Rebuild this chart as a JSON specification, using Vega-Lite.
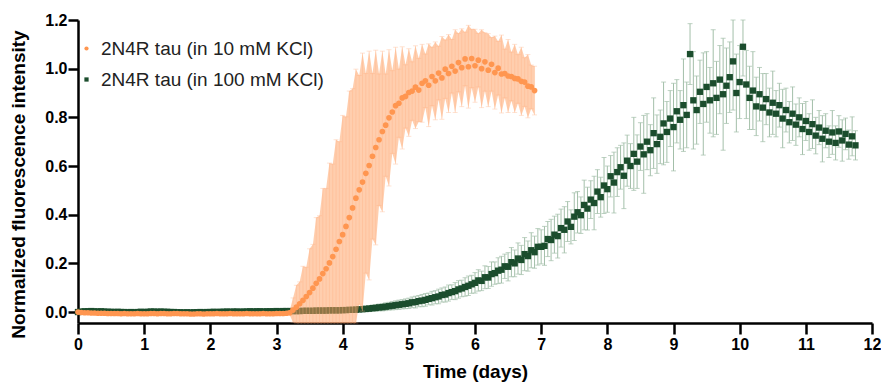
{
"$schema":"https://vega.github.io/schema/vega-lite/v6.json",
"width":794,"height":303,
"autosize":{"type":"none"},
"padding":{"left":78,"top":20,"right":9,"bottom":62},
"background":"white",
"config":{"view":{"stroke":null},"axis":{"grid":false}},
"data":{"values":[
{"s":"10","t":0.00,"m":0.000,"e":0.003},{"s":"10","t":0.05,"m":-0.002,"e":0.004},{"s":"10","t":0.10,"m":-0.003,"e":0.004},{"s":"10","t":0.15,"m":-0.003,"e":0.004},{"s":"10","t":0.20,"m":-0.004,"e":0.004},{"s":"10","t":0.25,"m":-0.004,"e":0.004},{"s":"10","t":0.30,"m":-0.005,"e":0.004},{"s":"10","t":0.35,"m":-0.005,"e":0.004},{"s":"10","t":0.40,"m":-0.005,"e":0.004},{"s":"10","t":0.45,"m":-0.006,"e":0.004},
{"s":"10","t":0.50,"m":-0.006,"e":0.004},{"s":"10","t":0.55,"m":-0.006,"e":0.004},{"s":"10","t":0.60,"m":-0.006,"e":0.004},{"s":"10","t":0.65,"m":-0.007,"e":0.004},{"s":"10","t":0.70,"m":-0.006,"e":0.004},{"s":"10","t":0.75,"m":-0.007,"e":0.004},{"s":"10","t":0.80,"m":-0.007,"e":0.004},{"s":"10","t":0.85,"m":-0.007,"e":0.004},{"s":"10","t":0.90,"m":-0.006,"e":0.004},{"s":"10","t":0.95,"m":-0.007,"e":0.004},
{"s":"10","t":1.00,"m":-0.007,"e":0.004},{"s":"10","t":1.05,"m":-0.007,"e":0.004},{"s":"10","t":1.10,"m":-0.006,"e":0.004},{"s":"10","t":1.15,"m":-0.006,"e":0.004},{"s":"10","t":1.20,"m":-0.007,"e":0.004},{"s":"10","t":1.25,"m":-0.006,"e":0.004},{"s":"10","t":1.30,"m":-0.006,"e":0.004},{"s":"10","t":1.35,"m":-0.007,"e":0.004},{"s":"10","t":1.40,"m":-0.007,"e":0.004},{"s":"10","t":1.45,"m":-0.006,"e":0.004},
{"s":"10","t":1.50,"m":-0.006,"e":0.004},{"s":"10","t":1.55,"m":-0.007,"e":0.004},{"s":"10","t":1.60,"m":-0.007,"e":0.004},{"s":"10","t":1.65,"m":-0.007,"e":0.004},{"s":"10","t":1.70,"m":-0.008,"e":0.004},{"s":"10","t":1.75,"m":-0.008,"e":0.004},{"s":"10","t":1.80,"m":-0.007,"e":0.004},{"s":"10","t":1.85,"m":-0.007,"e":0.004},{"s":"10","t":1.90,"m":-0.008,"e":0.004},{"s":"10","t":1.95,"m":-0.007,"e":0.004},
{"s":"10","t":2.00,"m":-0.007,"e":0.004},{"s":"10","t":2.05,"m":-0.007,"e":0.004},{"s":"10","t":2.10,"m":-0.006,"e":0.004},{"s":"10","t":2.15,"m":-0.007,"e":0.004},{"s":"10","t":2.20,"m":-0.007,"e":0.004},{"s":"10","t":2.25,"m":-0.007,"e":0.004},{"s":"10","t":2.30,"m":-0.006,"e":0.004},{"s":"10","t":2.35,"m":-0.007,"e":0.004},{"s":"10","t":2.40,"m":-0.007,"e":0.004},{"s":"10","t":2.45,"m":-0.007,"e":0.004},
{"s":"10","t":2.50,"m":-0.007,"e":0.004},{"s":"10","t":2.55,"m":-0.006,"e":0.004},{"s":"10","t":2.60,"m":-0.007,"e":0.004},{"s":"10","t":2.65,"m":-0.007,"e":0.004},{"s":"10","t":2.70,"m":-0.007,"e":0.004},{"s":"10","t":2.75,"m":-0.007,"e":0.004},{"s":"10","t":2.80,"m":-0.006,"e":0.004},{"s":"10","t":2.85,"m":-0.007,"e":0.004},{"s":"10","t":2.90,"m":-0.007,"e":0.004},{"s":"10","t":2.95,"m":-0.007,"e":0.004},
{"s":"10","t":3.00,"m":-0.006,"e":0.004},{"s":"10","t":3.05,"m":-0.006,"e":0.004},{"s":"10","t":3.10,"m":-0.006,"e":0.005},{"s":"10","t":3.15,"m":-0.005,"e":0.006},{"s":"10","t":3.20,"m":-0.003,"e":0.01},
{"s":"10","t":3.25,"m":0.008,"e":0.05},{"s":"10","t":3.30,"m":0.020,"e":0.09},{"s":"10","t":3.35,"m":0.034,"e":0.09},{"s":"10","t":3.40,"m":0.048,"e":0.14},{"s":"10","t":3.45,"m":0.064,"e":0.12},{"s":"10","t":3.50,"m":0.080,"e":0.18},{"s":"10","t":3.55,"m":0.098,"e":0.18},{"s":"10","t":3.60,"m":0.118,"e":0.27},{"s":"10","t":3.65,"m":0.136,"e":0.26},{"s":"10","t":3.70,"m":0.158,"e":0.35},
{"s":"10","t":3.75,"m":0.178,"e":0.33},{"s":"10","t":3.80,"m":0.202,"e":0.41},{"s":"10","t":3.85,"m":0.228,"e":0.38},{"s":"10","t":3.90,"m":0.258,"e":0.45},{"s":"10","t":3.95,"m":0.290,"e":0.41},{"s":"10","t":4.00,"m":0.318,"e":0.49},{"s":"10","t":4.05,"m":0.352,"e":0.45},{"s":"10","t":4.10,"m":0.388,"e":0.52},{"s":"10","t":4.15,"m":0.428,"e":0.49},{"s":"10","t":4.20,"m":0.468,"e":0.53},
{"s":"10","t":4.25,"m":0.502,"e":0.47},{"s":"10","t":4.30,"m":0.534,"e":0.53},{"s":"10","t":4.35,"m":0.570,"e":0.41},{"s":"10","t":4.40,"m":0.602,"e":0.47},{"s":"10","t":4.45,"m":0.640,"e":0.34},{"s":"10","t":4.50,"m":0.676,"e":0.40},{"s":"10","t":4.55,"m":0.708,"e":0.27},{"s":"10","t":4.60,"m":0.742,"e":0.33},{"s":"10","t":4.65,"m":0.768,"e":0.21},{"s":"10","t":4.70,"m":0.798,"e":0.28},
{"s":"10","t":4.75,"m":0.822,"e":0.17},{"s":"10","t":4.80,"m":0.848,"e":0.24},{"s":"10","t":4.85,"m":0.858,"e":0.14},{"s":"10","t":4.90,"m":0.880,"e":0.21},{"s":"10","t":4.95,"m":0.886,"e":0.13},{"s":"10","t":5.00,"m":0.902,"e":0.18},{"s":"10","t":5.05,"m":0.908,"e":0.12},{"s":"10","t":5.10,"m":0.924,"e":0.17},{"s":"10","t":5.15,"m":0.912,"e":0.13},{"s":"10","t":5.20,"m":0.940,"e":0.16},
{"s":"10","t":5.25,"m":0.950,"e":0.11},{"s":"10","t":5.30,"m":0.932,"e":0.17},{"s":"10","t":5.35,"m":0.968,"e":0.12},{"s":"10","t":5.40,"m":0.950,"e":0.16},{"s":"10","t":5.45,"m":0.982,"e":0.11},{"s":"10","t":5.50,"m":0.962,"e":0.17},{"s":"10","t":5.55,"m":0.998,"e":0.12},{"s":"10","t":5.60,"m":0.980,"e":0.16},{"s":"10","t":5.65,"m":1.010,"e":0.11},{"s":"10","t":5.70,"m":0.990,"e":0.17},
{"s":"10","t":5.75,"m":1.025,"e":0.12},{"s":"10","t":5.80,"m":1.004,"e":0.16},{"s":"10","t":5.85,"m":1.040,"e":0.11},{"s":"10","t":5.90,"m":1.008,"e":0.17},{"s":"10","t":5.95,"m":1.042,"e":0.12},{"s":"10","t":6.00,"m":1.012,"e":0.15},{"s":"10","t":6.05,"m":1.035,"e":0.11},{"s":"10","t":6.10,"m":1.000,"e":0.16},{"s":"10","t":6.15,"m":1.028,"e":0.12},{"s":"10","t":6.20,"m":0.994,"e":0.15},
{"s":"10","t":6.25,"m":1.018,"e":0.11},{"s":"10","t":6.30,"m":0.984,"e":0.15},{"s":"10","t":6.35,"m":1.002,"e":0.11},{"s":"10","t":6.40,"m":0.978,"e":0.16},{"s":"10","t":6.45,"m":0.980,"e":0.10},{"s":"10","t":6.50,"m":0.970,"e":0.15},{"s":"10","t":6.55,"m":0.968,"e":0.10},{"s":"10","t":6.60,"m":0.960,"e":0.14},{"s":"10","t":6.65,"m":0.958,"e":0.10},{"s":"10","t":6.70,"m":0.948,"e":0.14},
{"s":"10","t":6.75,"m":0.945,"e":0.10},{"s":"10","t":6.80,"m":0.928,"e":0.13},{"s":"10","t":6.85,"m":0.925,"e":0.09},{"s":"10","t":6.90,"m":0.910,"e":0.10},
{"s":"100","t":0.00,"m":0.000,"e":0.003},{"s":"100","t":0.05,"m":0.002,"e":0.004},{"s":"100","t":0.10,"m":0.003,"e":0.004},{"s":"100","t":0.15,"m":0.003,"e":0.004},{"s":"100","t":0.20,"m":0.004,"e":0.004},{"s":"100","t":0.25,"m":0.003,"e":0.004},{"s":"100","t":0.30,"m":0.002,"e":0.004},{"s":"100","t":0.35,"m":0.003,"e":0.004},{"s":"100","t":0.40,"m":0.002,"e":0.004},{"s":"100","t":0.45,"m":0.001,"e":0.004},
{"s":"100","t":0.50,"m":0.001,"e":0.004},{"s":"100","t":0.55,"m":0.000,"e":0.004},{"s":"100","t":0.60,"m":0.001,"e":0.004},{"s":"100","t":0.65,"m":0.000,"e":0.004},{"s":"100","t":0.70,"m":0.000,"e":0.004},{"s":"100","t":0.75,"m":-0.001,"e":0.004},{"s":"100","t":0.80,"m":0.000,"e":0.004},{"s":"100","t":0.85,"m":-0.001,"e":0.004},{"s":"100","t":0.90,"m":0.000,"e":0.004},{"s":"100","t":0.95,"m":0.001,"e":0.004},
{"s":"100","t":1.00,"m":0.000,"e":0.004},{"s":"100","t":1.05,"m":0.001,"e":0.004},{"s":"100","t":1.10,"m":0.002,"e":0.004},{"s":"100","t":1.15,"m":0.002,"e":0.004},{"s":"100","t":1.20,"m":0.001,"e":0.004},{"s":"100","t":1.25,"m":0.002,"e":0.004},{"s":"100","t":1.30,"m":0.001,"e":0.004},{"s":"100","t":1.35,"m":0.001,"e":0.004},{"s":"100","t":1.40,"m":0.000,"e":0.004},{"s":"100","t":1.45,"m":0.000,"e":0.004},
{"s":"100","t":1.50,"m":-0.001,"e":0.004},{"s":"100","t":1.55,"m":-0.001,"e":0.004},{"s":"100","t":1.60,"m":-0.002,"e":0.004},{"s":"100","t":1.65,"m":-0.001,"e":0.004},{"s":"100","t":1.70,"m":-0.002,"e":0.004},{"s":"100","t":1.75,"m":-0.001,"e":0.004},{"s":"100","t":1.80,"m":-0.001,"e":0.004},{"s":"100","t":1.85,"m":0.000,"e":0.004},{"s":"100","t":1.90,"m":-0.001,"e":0.004},{"s":"100","t":1.95,"m":0.000,"e":0.004},
{"s":"100","t":2.00,"m":0.000,"e":0.004},{"s":"100","t":2.05,"m":0.001,"e":0.004},{"s":"100","t":2.10,"m":0.000,"e":0.004},{"s":"100","t":2.15,"m":0.001,"e":0.004},{"s":"100","t":2.20,"m":0.001,"e":0.004},{"s":"100","t":2.25,"m":0.002,"e":0.004},{"s":"100","t":2.30,"m":0.001,"e":0.004},{"s":"100","t":2.35,"m":0.002,"e":0.004},{"s":"100","t":2.40,"m":0.002,"e":0.004},{"s":"100","t":2.45,"m":0.001,"e":0.004},
{"s":"100","t":2.50,"m":0.002,"e":0.004},{"s":"100","t":2.55,"m":0.002,"e":0.004},{"s":"100","t":2.60,"m":0.003,"e":0.004},{"s":"100","t":2.65,"m":0.002,"e":0.004},{"s":"100","t":2.70,"m":0.003,"e":0.004},{"s":"100","t":2.75,"m":0.003,"e":0.004},{"s":"100","t":2.80,"m":0.002,"e":0.004},{"s":"100","t":2.85,"m":0.003,"e":0.004},{"s":"100","t":2.90,"m":0.003,"e":0.004},{"s":"100","t":2.95,"m":0.003,"e":0.004},
{"s":"100","t":3.00,"m":0.004,"e":0.004},{"s":"100","t":3.05,"m":0.003,"e":0.004},{"s":"100","t":3.10,"m":0.004,"e":0.004},{"s":"100","t":3.15,"m":0.004,"e":0.004},{"s":"100","t":3.20,"m":0.004,"e":0.005},
{"s":"100","t":3.25,"m":0.004,"e":0.005},{"s":"100","t":3.30,"m":0.004,"e":0.005},{"s":"100","t":3.35,"m":0.004,"e":0.006},{"s":"100","t":3.40,"m":0.005,"e":0.006},{"s":"100","t":3.45,"m":0.005,"e":0.006},{"s":"100","t":3.50,"m":0.005,"e":0.006},{"s":"100","t":3.55,"m":0.005,"e":0.006},{"s":"100","t":3.60,"m":0.006,"e":0.007},{"s":"100","t":3.65,"m":0.006,"e":0.007},{"s":"100","t":3.70,"m":0.006,"e":0.007},
{"s":"100","t":3.75,"m":0.006,"e":0.007},{"s":"100","t":3.80,"m":0.007,"e":0.007},{"s":"100","t":3.85,"m":0.007,"e":0.008},{"s":"100","t":3.90,"m":0.007,"e":0.008},{"s":"100","t":3.95,"m":0.007,"e":0.008},{"s":"100","t":4.00,"m":0.008,"e":0.008},{"s":"100","t":4.05,"m":0.008,"e":0.008},{"s":"100","t":4.10,"m":0.009,"e":0.009},{"s":"100","t":4.15,"m":0.009,"e":0.009},{"s":"100","t":4.20,"m":0.010,"e":0.009},
{"s":"100","t":4.25,"m":0.011,"e":0.010},{"s":"100","t":4.30,"m":0.012,"e":0.011},{"s":"100","t":4.35,"m":0.013,"e":0.012},{"s":"100","t":4.40,"m":0.014,"e":0.012},{"s":"100","t":4.45,"m":0.016,"e":0.013},{"s":"100","t":4.50,"m":0.017,"e":0.014},{"s":"100","t":4.55,"m":0.019,"e":0.014},{"s":"100","t":4.60,"m":0.020,"e":0.015},{"s":"100","t":4.65,"m":0.022,"e":0.016},{"s":"100","t":4.70,"m":0.024,"e":0.016},
{"s":"100","t":4.75,"m":0.026,"e":0.017},{"s":"100","t":4.80,"m":0.028,"e":0.018},{"s":"100","t":4.85,"m":0.030,"e":0.019},{"s":"100","t":4.90,"m":0.032,"e":0.019},{"s":"100","t":4.95,"m":0.034,"e":0.020},{"s":"100","t":5.00,"m":0.036,"e":0.021},{"s":"100","t":5.05,"m":0.040,"e":0.022},{"s":"100","t":5.10,"m":0.041,"e":0.024},{"s":"100","t":5.15,"m":0.045,"e":0.023},{"s":"100","t":5.20,"m":0.047,"e":0.025},
{"s":"100","t":5.25,"m":0.050,"e":0.026},{"s":"100","t":5.30,"m":0.054,"e":0.024},{"s":"100","t":5.35,"m":0.057,"e":0.028},{"s":"100","t":5.40,"m":0.061,"e":0.027},{"s":"100","t":5.45,"m":0.064,"e":0.030},{"s":"100","t":5.50,"m":0.070,"e":0.029},{"s":"100","t":5.55,"m":0.072,"e":0.031},{"s":"100","t":5.60,"m":0.078,"e":0.033},{"s":"100","t":5.65,"m":0.082,"e":0.030},{"s":"100","t":5.70,"m":0.086,"e":0.035},
{"s":"100","t":5.75,"m":0.093,"e":0.036},{"s":"100","t":5.80,"m":0.097,"e":0.034},{"s":"100","t":5.85,"m":0.103,"e":0.038},{"s":"100","t":5.90,"m":0.108,"e":0.040},{"s":"100","t":5.95,"m":0.114,"e":0.037},{"s":"100","t":6.00,"m":0.120,"e":0.042},{"s":"100","t":6.05,"m":0.130,"e":0.044},{"s":"100","t":6.10,"m":0.128,"e":0.040},{"s":"100","t":6.15,"m":0.143,"e":0.047},{"s":"100","t":6.20,"m":0.142,"e":0.045},
{"s":"100","t":6.25,"m":0.156,"e":0.050},{"s":"100","t":6.30,"m":0.160,"e":0.046},{"s":"100","t":6.35,"m":0.170,"e":0.053},{"s":"100","t":6.40,"m":0.174,"e":0.055},{"s":"100","t":6.45,"m":0.188,"e":0.050},{"s":"100","t":6.50,"m":0.186,"e":0.058},{"s":"100","t":6.55,"m":0.205,"e":0.060},{"s":"100","t":6.60,"m":0.200,"e":0.055},{"s":"100","t":6.65,"m":0.220,"e":0.064},{"s":"100","t":6.70,"m":0.214,"e":0.060},
{"s":"100","t":6.75,"m":0.238,"e":0.068},{"s":"100","t":6.80,"m":0.230,"e":0.062},{"s":"100","t":6.85,"m":0.254,"e":0.072},{"s":"100","t":6.90,"m":0.246,"e":0.066},{"s":"100","t":6.95,"m":0.268,"e":0.075},{"s":"100","t":7.00,"m":0.268,"e":0.070},{"s":"100","t":7.05,"m":0.272,"e":0.080},{"s":"100","t":7.10,"m":0.300,"e":0.072},{"s":"100","t":7.15,"m":0.296,"e":0.085},{"s":"100","t":7.20,"m":0.318,"e":0.076},
{"s":"100","t":7.25,"m":0.312,"e":0.090},{"s":"100","t":7.30,"m":0.345,"e":0.078},{"s":"100","t":7.35,"m":0.338,"e":0.095},{"s":"100","t":7.40,"m":0.372,"e":0.082},{"s":"100","t":7.45,"m":0.350,"e":0.070},{"s":"100","t":7.50,"m":0.392,"e":0.098},{"s":"100","t":7.55,"m":0.410,"e":0.085},{"s":"100","t":7.60,"m":0.398,"e":0.075},{"s":"100","t":7.65,"m":0.440,"e":0.102},{"s":"100","t":7.70,"m":0.425,"e":0.088},
{"s":"100","t":7.75,"m":0.462,"e":0.078},{"s":"100","t":7.80,"m":0.448,"e":0.110},{"s":"100","t":7.85,"m":0.495,"e":0.090},{"s":"100","t":7.90,"m":0.472,"e":0.082},{"s":"100","t":7.95,"m":0.520,"e":0.115},{"s":"100","t":8.00,"m":0.505,"e":0.095},{"s":"100","t":8.05,"m":0.558,"e":0.085},{"s":"100","t":8.10,"m":0.532,"e":0.125},{"s":"100","t":8.15,"m":0.575,"e":0.100},{"s":"100","t":8.20,"m":0.595,"e":0.090},
{"s":"100","t":8.25,"m":0.560,"e":0.135},{"s":"100","t":8.30,"m":0.622,"e":0.105},{"s":"100","t":8.35,"m":0.600,"e":0.092},{"s":"100","t":8.40,"m":0.650,"e":0.150},{"s":"100","t":8.45,"m":0.618,"e":0.110},{"s":"100","t":8.50,"m":0.680,"e":0.098},{"s":"100","t":8.55,"m":0.648,"e":0.160},{"s":"100","t":8.60,"m":0.700,"e":0.115},{"s":"100","t":8.65,"m":0.665,"e":0.105},{"s":"100","t":8.70,"m":0.735,"e":0.145},
{"s":"100","t":8.75,"m":0.690,"e":0.120},{"s":"100","t":8.80,"m":0.720,"e":0.110},{"s":"100","t":8.85,"m":0.775,"e":0.170},{"s":"100","t":8.90,"m":0.740,"e":0.125},{"s":"100","t":8.95,"m":0.795,"e":0.115},{"s":"100","t":9.00,"m":0.760,"e":0.180},{"s":"100","t":9.05,"m":0.825,"e":0.130},{"s":"100","t":9.10,"m":0.790,"e":0.120},{"s":"100","t":9.15,"m":0.850,"e":0.190},{"s":"100","t":9.20,"m":0.810,"e":0.135},
{"s":"100","t":9.25,"m":1.060,"e":0.125},{"s":"100","t":9.30,"m":0.870,"e":0.200},{"s":"100","t":9.35,"m":0.830,"e":0.140},{"s":"100","t":9.40,"m":0.905,"e":0.130},{"s":"100","t":9.45,"m":0.855,"e":0.210},{"s":"100","t":9.50,"m":0.925,"e":0.145},{"s":"100","t":9.55,"m":0.870,"e":0.135},{"s":"100","t":9.60,"m":0.940,"e":0.220},{"s":"100","t":9.65,"m":0.880,"e":0.150},{"s":"100","t":9.70,"m":0.955,"e":0.140},
{"s":"100","t":9.75,"m":0.895,"e":0.230},{"s":"100","t":9.80,"m":0.930,"e":0.155},{"s":"100","t":9.85,"m":0.965,"e":0.145},{"s":"100","t":9.90,"m":1.030,"e":0.200},{"s":"100","t":9.95,"m":0.900,"e":0.160},{"s":"100","t":10.00,"m":0.945,"e":0.150},{"s":"100","t":10.05,"m":1.090,"e":0.120},{"s":"100","t":10.10,"m":0.935,"e":0.140},{"s":"100","t":10.15,"m":0.880,"e":0.130},{"s":"100","t":10.20,"m":0.910,"e":0.160},
{"s":"100","t":10.25,"m":0.845,"e":0.120},{"s":"100","t":10.30,"m":0.895,"e":0.110},{"s":"100","t":10.35,"m":0.840,"e":0.140},{"s":"100","t":10.40,"m":0.875,"e":0.105},{"s":"100","t":10.45,"m":0.820,"e":0.100},{"s":"100","t":10.50,"m":0.860,"e":0.130},{"s":"100","t":10.55,"m":0.815,"e":0.095},{"s":"100","t":10.60,"m":0.850,"e":0.090},{"s":"100","t":10.65,"m":0.795,"e":0.120},{"s":"100","t":10.70,"m":0.830,"e":0.090},
{"s":"100","t":10.75,"m":0.780,"e":0.085},{"s":"100","t":10.80,"m":0.815,"e":0.110},{"s":"100","t":10.85,"m":0.770,"e":0.085},{"s":"100","t":10.90,"m":0.800,"e":0.080},{"s":"100","t":10.95,"m":0.752,"e":0.105},{"s":"100","t":11.00,"m":0.785,"e":0.080},{"s":"100","t":11.05,"m":0.740,"e":0.075},{"s":"100","t":11.10,"m":0.772,"e":0.100},{"s":"100","t":11.15,"m":0.725,"e":0.075},{"s":"100","t":11.20,"m":0.758,"e":0.070},
{"s":"100","t":11.25,"m":0.712,"e":0.095},{"s":"100","t":11.30,"m":0.745,"e":0.070},{"s":"100","t":11.35,"m":0.700,"e":0.065},{"s":"100","t":11.40,"m":0.738,"e":0.090},{"s":"100","t":11.45,"m":0.695,"e":0.070},{"s":"100","t":11.50,"m":0.742,"e":0.065},{"s":"100","t":11.55,"m":0.705,"e":0.085},{"s":"100","t":11.60,"m":0.732,"e":0.065},{"s":"100","t":11.65,"m":0.688,"e":0.060},{"s":"100","t":11.70,"m":0.722,"e":0.080},
{"s":"100","t":11.75,"m":0.685,"e":0.060}
]},
"encoding":{
"x":{"field":"t","type":"quantitative","scale":{"domain":[0,12],"nice":false,"zero":false},
"axis":{"title":"Time (days)","values":[0,1,2,3,4,5,6,7,8,9,10,11,12],"format":"d","domainColor":"black","domainWidth":2.5,"tickColor":"black","tickWidth":2.5,"tickSize":11,"labelFont":"Liberation Sans","labelFontWeight":"bold","labelFontSize":16,"labelColor":"black","labelPadding":2,"titleFont":"Liberation Sans","titleFontWeight":"bold","titleFontSize":19,"titleColor":"black","titlePadding":10,"labelFlush":false}},
"y":{"field":"m","type":"quantitative","scale":{"domain":[-0.045,1.2],"nice":false,"zero":false,"clamp":true},
"axis":{"title":"Normalized fluorescence intensity","values":[0,0.2,0.4,0.6,0.8,1.0,1.2],"format":".1f","domainColor":"black","domainWidth":2.5,"tickColor":"black","tickWidth":2.5,"tickSize":10,"labelFont":"Liberation Sans","labelFontWeight":"bold","labelFontSize":16,"labelColor":"black","labelPadding":1,"titleFont":"Liberation Sans","titleFontWeight":"bold","titleFontSize":19,"titleColor":"black","titleX":-60,"titleY":164,"titleAlign":"center","titleBaseline":"middle","labelFlush":false}}
},
"layer":[
{"transform":[{"filter":"datum.s=='100'"}],"mark":{"type":"errorbar","color":"#A3BFA9","thickness":1,"ticks":{"size":5}},"encoding":{"yError":{"field":"e"}}},
{"transform":[{"filter":"datum.s=='100'"}],"mark":{"type":"point","filled":true,"size":40,"opacity":1},
"encoding":{"color":{"field":"s","type":"nominal","scale":{"domain":["10","100"],"range":["#FF9650","#1B4D2D"]},
"legend":{"title":null,"orient":"none","legendX":-1,"legendY":19,"labelFont":"Liberation Sans","labelFontSize":19,"labelColor":"#222222","labelLimit":0,"symbolSize":18,"rowPadding":11,"labelOffset":5,"labelExpr":"'2N4R tau (in ' + datum.label + ' mM KCl)'"}},
"shape":{"field":"s","type":"nominal","scale":{"domain":["10","100"],"range":["circle","square"]}}}},
{"transform":[{"filter":"datum.s=='10'"}],"mark":{"type":"errorband","color":"#FF9E5E","opacity":0.5},"encoding":{"yError":{"field":"e"}}},
{"transform":[{"filter":"datum.s=='10'"}],"mark":{"type":"errorbar","color":"#FFB080","opacity":0.35,"thickness":1,"ticks":{"size":5}},"encoding":{"yError":{"field":"e"}}},
{"transform":[{"filter":"datum.s=='10'"}],"mark":{"type":"point","filled":true,"size":32,"opacity":1},
"encoding":{"color":{"field":"s","type":"nominal"},"shape":{"field":"s","type":"nominal"}}}
]
}
